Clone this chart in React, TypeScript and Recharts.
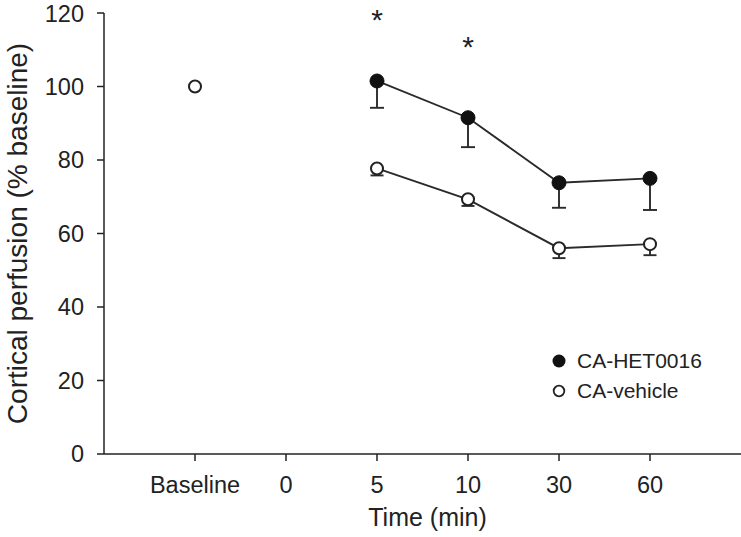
import { ComposedChart, Line, XAxis, YAxis, ErrorBar, Legend } from 'recharts';

const timeLabels = ['Baseline', '0', '5', '10', '30', '60'];
const timePos = [1, 2, 3, 4, 5, 6];
const hetMean = [null, null, 101.5, 91.5, 73.8, 75.0];
const hetSem = [null, null, 7.3, 8.0, 6.8, 8.6];
const vehMean = [100, null, 77.7, 69.3, 56.0, 57.1];
const vehSem = [0, null, 1.9, 1.8, 2.7, 3.0];
const sigMarks = [null, null, 119.9, 112.6, null, null];
const yTicks = [0, 20, 40, 60, 80, 100, 120];

const FONT = '"Liberation Sans", Arial, Helvetica, sans-serif';
const INK = '#222';

const data = timeLabels.map((label, i) => ({
  x: timePos[i],
  label,
  het: hetMean[i],
  hetErr: hetSem[i] == null ? null : [hetSem[i], 0],
  veh: vehMean[i],
  vehErr: vehSem[i] == null ? null : [vehSem[i], 0],
  star: sigMarks[i],
}));

const renderStar = (props: any) => {
  const { cx, cy, index, value } = props;
  if (value == null || cy == null) return <g key={`s-${index}`} />;
  return (
    <text
      key={`s-${index}`}
      x={cx}
      y={cy + 17}
      textAnchor="middle"
      fontSize={30}
      fontFamily={FONT}
      fill={INK}
    >
      *
    </text>
  );
};

const renderLegend = () => (
  <div style={{ fontFamily: FONT, fontSize: 21, color: INK, lineHeight: '30px' }}>
    <div style={{ display: 'flex', alignItems: 'center' }}>
      <svg width={18} height={30}>
        <circle cx={9} cy={15} r={6.5} fill="#111" />
      </svg>
      <span style={{ marginLeft: 9 }}>CA-HET0016</span>
    </div>
    <div style={{ display: 'flex', alignItems: 'center' }}>
      <svg width={18} height={30}>
        <circle cx={9} cy={15} r={5.3} fill="#fff" stroke={INK} strokeWidth={1.8} />
      </svg>
      <span style={{ marginLeft: 9 }}>CA-vehicle</span>
    </div>
  </div>
);

export default function App() {
  return (
    <div style={{ position: 'absolute', left: 0, top: 0, width: 741, height: 537, background: '#fff' }}>
      <ComposedChart width={741} height={537} data={data} margin={{ top: 13, right: 0, bottom: 0, left: 0 }}>
        <XAxis
          dataKey="x"
          type="number"
          domain={[0, 7]}
          ticks={timePos}
          tickFormatter={(v: number) => timeLabels[timePos.indexOf(v)]}
          height={83}
          tickSize={7}
          tickMargin={15}
          stroke={INK}
          strokeWidth={1.5}
          tick={{ fontSize: 23.5, fill: INK, fontFamily: FONT }}
          label={{
            value: 'Time (min)',
            position: 'insideBottom',
            offset: 11,
            dx: 5,
            style: { fontSize: 25, fill: INK, fontFamily: FONT },
          }}
        />
        <YAxis
          domain={[0, 120]}
          ticks={yTicks}
          width={104}
          tickSize={7}
          tickMargin={13}
          stroke={INK}
          strokeWidth={1.5}
          tick={{ fontSize: 23.5, fill: INK, fontFamily: FONT }}
          label={{
            value: 'Cortical perfusion (% baseline)',
            angle: -90,
            position: 'insideLeft',
            offset: 17,
            style: { fontSize: 28, fill: INK, fontFamily: FONT, textAnchor: 'middle' },
          }}
        />
        <Legend
          layout="horizontal"
          verticalAlign="middle"
          align="center"
          content={renderLegend}
          wrapperStyle={{ position: 'absolute', left: 550, top: 346, width: 190 }}
        />
        <Line
          dataKey="het"
          name="CA-HET0016"
          stroke="#2a2a2a"
          strokeWidth={1.9}
          dot={{ r: 7, fill: '#111', stroke: '#111', strokeWidth: 1 }}
          activeDot={false}
          isAnimationActive={false}
        >
          <ErrorBar dataKey="hetErr" width={7} stroke="#2a2a2a" strokeWidth={1.9} direction="y" />
        </Line>
        <Line
          dataKey="veh"
          name="CA-vehicle"
          stroke="#2a2a2a"
          strokeWidth={1.9}
          dot={{ r: 6, fill: '#fff', stroke: INK, strokeWidth: 2 }}
          activeDot={false}
          isAnimationActive={false}
        >
          <ErrorBar dataKey="vehErr" width={6.5} stroke="#2a2a2a" strokeWidth={1.9} direction="y" />
        </Line>
        <Line
          dataKey="star"
          stroke="none"
          dot={renderStar}
          activeDot={false}
          legendType="none"
          isAnimationActive={false}
        />
      </ComposedChart>
    </div>
  );
}
